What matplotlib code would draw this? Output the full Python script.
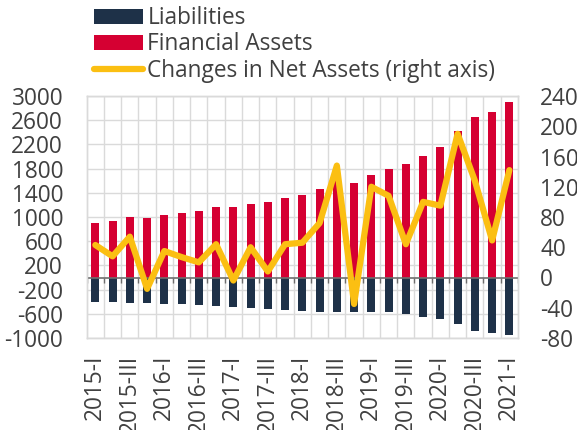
import numpy as np
import matplotlib
matplotlib.use("Agg")
import matplotlib.pyplot as plt
import matplotlib.transforms as mtransforms

#%% data
quarters = ["2015-I", "2015-II", "2015-III", "2015-IV",
            "2016-I", "2016-II", "2016-III", "2016-IV",
            "2017-I", "2017-II", "2017-III", "2017-IV",
            "2018-I", "2018-II", "2018-III", "2018-IV",
            "2019-I", "2019-II", "2019-III", "2019-IV",
            "2020-I", "2020-II", "2020-III", "2020-IV",
            "2021-I"]
financial_assets = [902, 940, 1001, 990, 1035, 1068, 1095, 1162, 1173, 1217,
                    1250, 1313, 1366, 1461, 1620, 1565, 1687, 1798, 1876, 2014,
                    2152, 2423, 2656, 2739, 2905]
liabilities = [-398, -409, -415, -426, -432, -443, -448, -470, -487, -503,
               -526, -537, -553, -570, -575, -570, -570, -575, -603, -653,
               -692, -775, -880, -913, -946]
net_change = [43, 28, 54, -15, 35, 27, 20, 44, -4, 40,
              8, 44, 46, 72, 148, -35, 120, 108, 44, 100,
              95, 190, 128, 49, 142]

#%% style
c_liab = "#1E3148"
c_assets = "#D50032"
c_line = "#FBBF12"
c_text = "#404040"
c_grid = "#DADADA"

plt.rcParams['font.family'] = ['Open Sans', 'DejaVu Sans']
plt.rcParams['font.size'] = 16.3
plt.rcParams['axes.unicode_minus'] = False
plt.rcParams['text.color'] = c_text
plt.rcParams['xtick.color'] = c_text
plt.rcParams['ytick.color'] = c_text

x = np.arange(len(quarters))

fig = plt.figure(figsize=(5.77, 4.30), dpi=100)
ax = fig.add_axes([86.7/577, 1-338/430, (518-86.7)/577, (338-96)/430])
ax2 = ax.twinx()

ax.bar(x, liabilities, width=0.47, color=c_liab, label="Liabilities", zorder=3)
ax.bar(x, financial_assets, width=0.47, color=c_assets, label="Financial Assets", zorder=3)
ax2.plot(x, net_change, color=c_line, linewidth=4.5, solid_capstyle="round",
         solid_joinstyle="round", label="Changes in Net Assets (right axis)", zorder=4)

ax.set_xlim(-0.5, len(quarters)-0.5)
ax.set_ylim(-1000, 3000)
ax2.set_ylim(-80, 240)
ax.set_yticks(np.arange(-1000, 3001, 400))
ax2.set_yticks(np.arange(-80, 241, 40))

ax.set_xticks(x[::2])
ax.set_xticklabels(quarters[::2], rotation=90)
ax.set_xticks(x[:-1]+0.5, minor=True)
ax.tick_params(axis="x", which="both", length=0, pad=12)
ax.tick_params(axis="y", length=0, pad=17)
ax2.tick_params(axis="y", length=0, pad=16)

ax.grid(axis="y", which="major", color=c_grid, linewidth=1, zorder=0)
ax.grid(axis="x", which="minor", color=c_grid, linewidth=1, zorder=0)
ax.set_axisbelow(True)
for a in (ax, ax2):
    for s in a.spines.values():
        s.set_color(c_grid)
        s.set_linewidth(1)

# zero line with small ticks at the category boundaries
ax.axhline(0, color="#6E6E6E", linewidth=1.2, zorder=3.5)
trans = mtransforms.blended_transform_factory(ax.transData, ax.transAxes)
zero_frac = 1000/4000
ax.vlines(np.arange(-0.5, len(quarters)), zero_frac-0.022, zero_frac,
          transform=trans, color="#6E6E6E", linewidth=1, zorder=3.5)

h1, l1 = ax.get_legend_handles_labels()
h2, l2 = ax2.get_legend_handles_labels()
leg = fig.legend(h1+h2, l1+l2, loc="upper left", bbox_to_anchor=(85/577, 1+3/430),
                 frameon=False, handlelength=2.15, handleheight=0.65,
                 handletextpad=0.2, labelspacing=0.1, borderaxespad=0)

fig.savefig("out.png", dpi=100)
